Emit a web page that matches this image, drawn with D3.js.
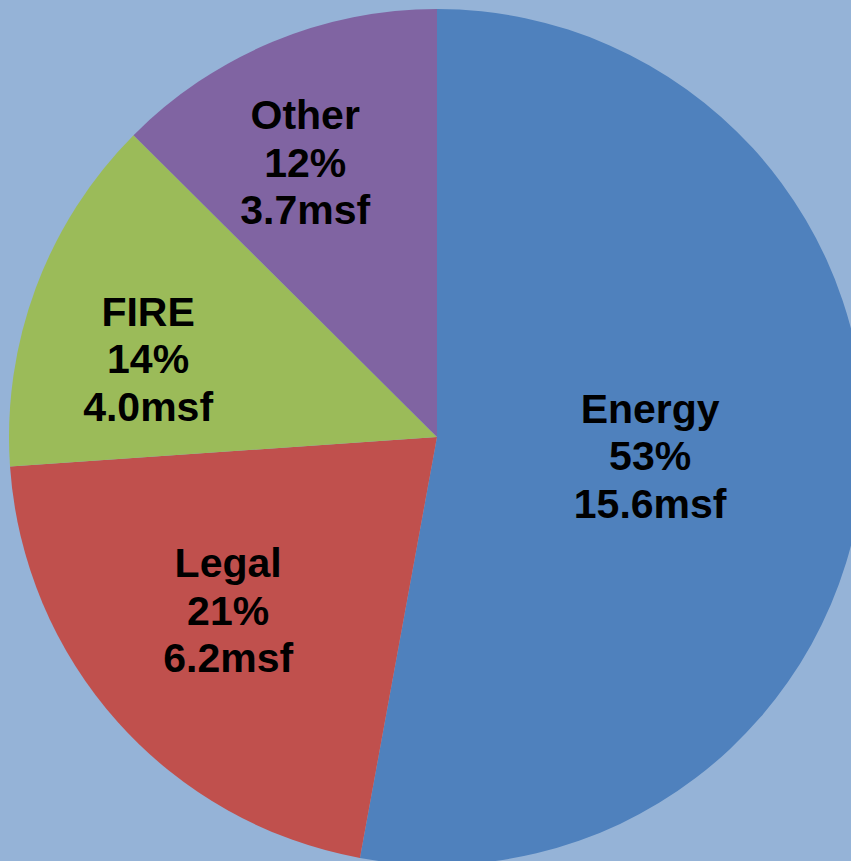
<!DOCTYPE html>
<html>
<head>
<meta charset="utf-8">
<script src="https://cdn.jsdelivr.net/npm/d3@7"></script>
<style>
  html, body { margin: 0; padding: 0; background: #95B3D7; }
  svg { display: block; }
</style>
</head>
<body>
<svg id="chart" width="851" height="861"></svg>
<script>
// Leased space by industry, million square feet
const categories = ["Energy", "Legal", "FIRE", "Other"];
const msf = [15.6, 6.2, 4.0, 3.7];
const percentLabels = ["53%", "21%", "14%", "12%"];

const colors = ["#4F81BD", "#C0504D", "#9BBB59", "#8064A2"];

// Label centres, as fractions of the radius from the pie centre
const labelPlacement = {
  Energy: [0.498, 0.043],
  Legal: [-0.488, 0.404],
  FIRE: [-0.675, -0.183],
  Other: [-0.308, -0.643]
};

const width = 851, height = 861;
const cx = 437, cy = 437, radius = 428;
const fontSize = 41, lineGap = 47.5;

const svg = d3.select("#chart");
svg.append("rect").attr("width", width).attr("height", height).attr("fill", "#95B3D7");

const data = categories.map((c, i) => ({ name: c, value: msf[i], pct: percentLabels[i], color: colors[i] }));

const pie = d3.pie().sort(null).value(d => d.value);
const arc = d3.arc().innerRadius(0).outerRadius(radius);

const g = svg.append("g").attr("transform", `translate(${cx},${cy})`);

g.selectAll("path.slice")
  .data(pie(data))
  .join("path")
  .attr("class", "slice")
  .attr("d", arc)
  .attr("fill", d => d.data.color);

const labels = g.selectAll("text.label")
  .data(pie(data))
  .join("text")
  .attr("class", "label")
  .attr("text-anchor", "middle")
  .attr("font-family", "'Liberation Sans', Arial, sans-serif")
  .attr("font-weight", "bold")
  .attr("font-size", fontSize)
  .attr("fill", "#000")
  .attr("transform", d => {
    const p = labelPlacement[d.data.name];
    return `translate(${p[0] * radius},${p[1] * radius})`;
  });

labels.each(function(d) {
  const lines = [d.data.name, d.data.pct, d.data.value.toFixed(1) + "msf"];
  const t = d3.select(this);
  lines.forEach((line, i) => {
    t.append("tspan")
      .attr("x", 0)
      .attr("y", (i - 1) * lineGap + fontSize * 0.36)
      .text(line);
  });
});
</script>
</body>
</html>
